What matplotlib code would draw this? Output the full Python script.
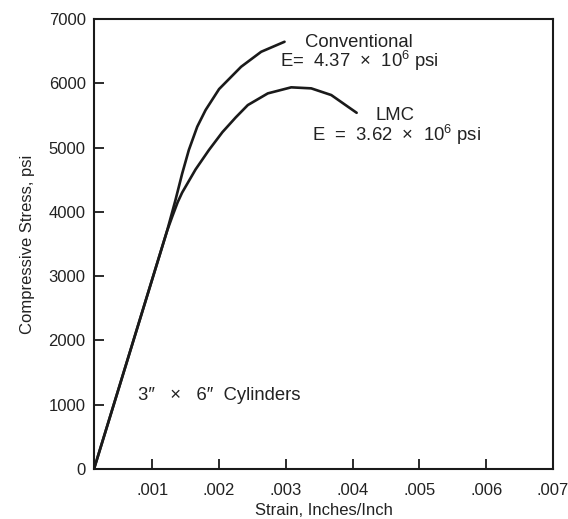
import matplotlib
matplotlib.use("Agg")
import matplotlib.pyplot as plt

plt.rcParams['font.family'] = ['Liberation Sans', 'DejaVu Sans']
plt.rcParams['mathtext.default'] = 'regular'

# Data
conv_strain = [0.000127, 0.00122, 0.001346, 0.001447, 0.001547, 0.001673, 0.001798,
               0.00200, 0.00233, 0.00263, 0.00298]
conv_stress = [0, 3700, 4180, 4594, 4962, 5325, 5584, 5910, 6257, 6490, 6646]

lmc_strain = [0.000127, 0.00122, 0.0013, 0.00138, 0.001447, 0.001648, 0.001848, 0.00205,
              0.00225, 0.00243, 0.00273, 0.00308, 0.00338, 0.00368, 0.00393, 0.00406]
lmc_stress = [0, 3700, 3930, 4150, 4300, 4660, 4962, 5240, 5470, 5661, 5843, 5937,
              5921, 5817, 5635, 5541]

x_ticks = [0.001, 0.002, 0.003, 0.004, 0.005, 0.006, 0.007]
x_tick_labels = ['.001', '.002', '.003', '.004', '.005', '.006', '.007']
y_ticks = [0, 1000, 2000, 3000, 4000, 5000, 6000, 7000]
y_tick_labels = ['0', '1000', '2000', '3000', '4000', '5000', '6000', '7000']

fig = plt.figure(figsize=(5.68, 5.19), dpi=100)
ax = fig.add_axes([94/568, 1-469/519, (553-94)/568, (469-19)/519])

lc = '#1a1a1a'
ax.plot(conv_strain, conv_stress, color=lc, lw=1.9, solid_capstyle='round', solid_joinstyle='round')
ax.plot(lmc_strain, lmc_stress, color=lc, lw=1.9, solid_capstyle='round', solid_joinstyle='round')

ax.set_xlim(0.000127, 0.007)
ax.set_ylim(0, 7000)
ax.set_xticks(x_ticks)
ax.set_xticklabels(x_tick_labels)
ax.set_yticks(y_ticks)
ax.set_yticklabels(y_tick_labels)
ax.tick_params(axis='both', direction='in', length=7, width=1.3, color=lc, labelsize=12, labelcolor='#222222')
ax.tick_params(axis='x', pad=10)
ax.tick_params(axis='y', pad=6)
for s in ax.spines.values():
    s.set_linewidth(1.5)
    s.set_color(lc)

ax.set_xlabel('Strain, Inches/Inch', fontsize=12, color='#222222', labelpad=4)
ax.set_ylabel('Compressive Stress, psi', fontsize=12, color='#222222', labelpad=10)

tc = '#222222'
ax.text(0.0041, 6642, 'Conventional', ha='center', va='center', fontsize=13.3, color=tc)
ax.text(0.0041, 6346, 'E=  4.37  \u00d7  10$^{6}$ psi', ha='center', va='center', fontsize=13.3, color=tc)
ax.text(0.00463, 5506, 'LMC', ha='center', va='center', fontsize=13.3, color=tc)
ax.text(0.00465, 5195, 'E  =  3.62  \u00d7  10$^{6}$ psi', ha='center', va='center', fontsize=13.3, color=tc)
ax.text(0.00079, 1151, '3\u2033   \u00d7   6\u2033  Cylinders', ha='left', va='center', fontsize=13.3, color=tc)

fig.savefig('out.png', dpi=100)
